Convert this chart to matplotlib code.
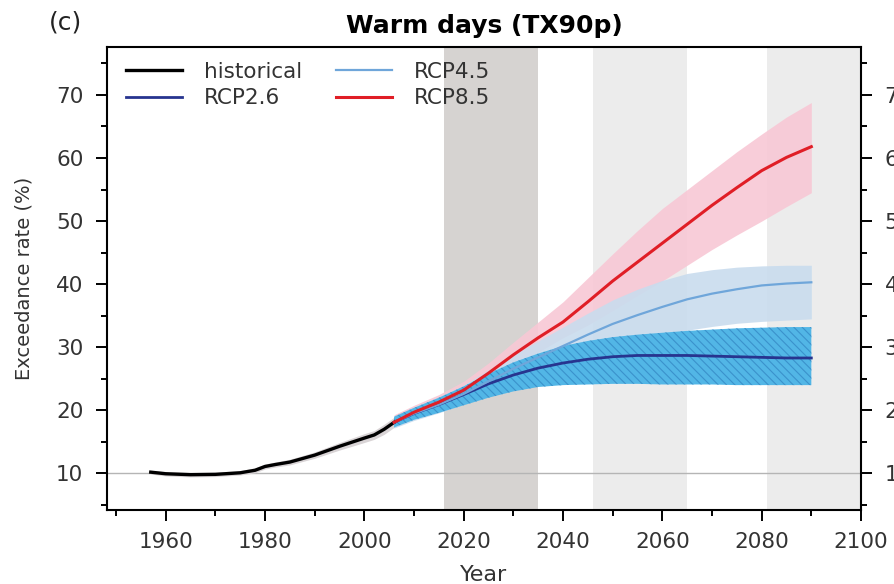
import matplotlib
matplotlib.use("Agg")
import matplotlib.pyplot as plt
from matplotlib.ticker import MultipleLocator

plt.rcParams["font.family"] = ["DejaVu Sans"]
plt.rcParams["hatch.linewidth"] = 0.8

# historical ensemble mean
hist_years = [1957, 1960, 1965, 1970, 1975, 1978, 1980, 1982, 1985, 1990, 1995, 2000, 2002, 2004, 2006]
hist_mean = [10.2, 9.95, 9.8, 9.85, 10.1, 10.5, 11.1, 11.4, 11.8, 12.9, 14.3, 15.6, 16.1, 17.0, 18.1]
hist_low = [9.9, 9.6, 9.45, 9.5, 9.75, 10.1, 10.7, 11.0, 11.35, 12.4, 13.7, 14.9, 15.4, 16.2, 17.3]
hist_high = [10.5, 10.3, 10.15, 10.2, 10.45, 10.9, 11.5, 11.8, 12.25, 13.4, 14.9, 16.3, 16.8, 17.8, 18.9]

# scenario projections
proj_years = [2006, 2010, 2015, 2020, 2025, 2030, 2035, 2040, 2045, 2050,
              2055, 2060, 2065, 2070, 2075, 2080, 2085, 2090]

rcp26_mean = [18.1, 19.5, 20.9, 22.5, 24.2, 25.6, 26.7, 27.5, 28.1, 28.5,
              28.7, 28.7, 28.7, 28.6, 28.5, 28.4, 28.3, 28.3]
rcp26_low = [17.3, 18.5, 19.6, 20.8, 22.0, 23.0, 23.7, 24.0, 24.1, 24.2,
             24.2, 24.1, 24.1, 24.1, 24.0, 24.0, 24.0, 24.0]
rcp26_high = [19.0, 20.4, 22.0, 23.8, 25.8, 27.6, 29.0, 30.2, 31.0, 31.6,
              32.0, 32.3, 32.6, 32.8, 33.0, 33.1, 33.2, 33.2]

rcp45_mean = [18.1, 19.5, 20.9, 22.6, 24.6, 26.6, 28.4, 30.2, 32.0, 33.7,
              35.1, 36.4, 37.6, 38.5, 39.2, 39.8, 40.1, 40.3]
rcp45_low = [17.2, 18.4, 19.6, 21.0, 22.8, 24.6, 26.2, 27.6, 29.0, 30.2,
             31.2, 32.0, 32.7, 33.3, 33.8, 34.1, 34.3, 34.5]
rcp45_high = [19.0, 20.5, 22.1, 24.0, 26.4, 28.8, 31.0, 33.2, 35.4, 37.5,
              39.2, 40.6, 41.7, 42.3, 42.7, 42.9, 43.0, 43.0]

rcp85_mean = [18.1, 19.7, 21.3, 23.2, 25.9, 28.8, 31.5, 34.0, 37.2, 40.5,
              43.5, 46.5, 49.5, 52.5, 55.3, 58.0, 60.1, 61.8]
rcp85_low = [17.3, 18.7, 20.2, 21.8, 24.2, 26.8, 29.2, 31.5, 33.5, 35.8,
             38.2, 40.5, 43.0, 45.5, 47.8, 50.0, 52.3, 54.5]
rcp85_high = [19.3, 20.8, 22.5, 24.6, 27.5, 30.8, 34.0, 37.2, 41.0, 44.8,
              48.5, 52.0, 55.0, 58.0, 61.0, 63.8, 66.5, 68.8]

# 20-year periods shaded in the background
near_period = (2016, 2035)
later_periods = [(2046, 2065), (2081, 2100)]

fig = plt.figure(figsize=(8.95, 5.84), dpi=100)
ax = fig.add_axes([0.1196, 0.1267, 0.8424, 0.7928])

ax.axvspan(*near_period, color="#d6d3d1", lw=0, zorder=0)
for p in later_periods:
    ax.axvspan(*p, color="#ececec", lw=0, zorder=0)
ax.axhline(10, color="#b5b5b5", lw=1.0, zorder=1)

ax.fill_between(hist_years, hist_low, hist_high, color="#d9d4d6", lw=0, zorder=2)
ax.fill_between(proj_years, rcp85_low, rcp85_high, color="#f8c8d5", lw=0, alpha=0.9, zorder=2)
ax.fill_between(proj_years, rcp45_low, rcp45_high, color="#c9dcee", lw=0, alpha=0.9, zorder=3)
ax.fill_between(proj_years, rcp26_low, rcp26_high, facecolor="#52b6e6", edgecolor="#3b92cc",
                hatch="\\\\\\\\", lw=0, zorder=4)

ax.plot(hist_years, hist_mean, color="black", lw=2.4, label="historical", zorder=6)
ax.plot(proj_years, rcp26_mean, color="#27348f", lw=2.0, label="RCP2.6", zorder=6)
ax.plot(proj_years, rcp45_mean, color="#6fa6da", lw=1.6, label="RCP4.5", zorder=6)
ax.plot(proj_years, rcp85_mean, color="#e01e26", lw=2.2, label="RCP8.5", zorder=7)

ax.set_xlim(1948.2, 2100)
ax.set_ylim(4.2, 77.6)
ax.xaxis.set_major_locator(MultipleLocator(20))
ax.xaxis.set_minor_locator(MultipleLocator(10))
ax.yaxis.set_major_locator(MultipleLocator(10))
ax.yaxis.set_minor_locator(MultipleLocator(5))
ax.tick_params(which="both", direction="out", width=1.4, colors="black",
               labelcolor="#333333", labelsize=15.5, right=True, labelright=True)
ax.tick_params(which="major", length=8)
ax.tick_params(which="minor", length=4.5)
ax.tick_params(axis="x", which="major", pad=8)
ax.tick_params(axis="y", which="major", pad=9)
for s in ax.spines.values():
    s.set_linewidth(1.5)

ax.set_title("Warm days (TX90p)", fontsize=18, fontweight="bold", pad=10)
fig.text(0.055, 0.962, "(c)", fontsize=18, color="#222222", va="center")
ax.set_ylabel("Exceedance rate (%)", fontsize=14, color="#333333", labelpad=16)
ax.set_xlabel("Year", fontsize=16, color="#333333", labelpad=9)

leg = ax.legend(ncol=2, loc="upper left", bbox_to_anchor=(0.0, 1.01), frameon=False,
                fontsize=15.5, handlelength=2.6, handletextpad=1.0,
                columnspacing=1.6, labelspacing=0.3)
for t in leg.get_texts():
    t.set_color("#333333")

fig.savefig("out.png", dpi=100)
